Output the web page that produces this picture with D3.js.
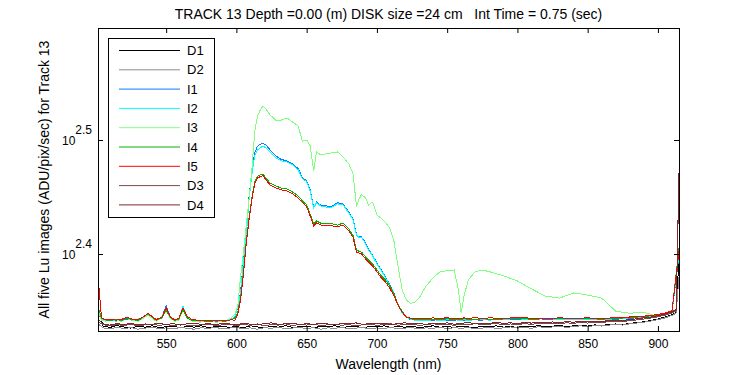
<!DOCTYPE html>
<html>
<head>
<meta charset="utf-8">
<script src="https://cdn.jsdelivr.net/npm/d3@7/dist/d3.min.js"></script>
<style>
  body { margin: 0; background: #fff; }
  svg { font-family: "Liberation Sans", Arial, sans-serif; }
</style>
</head>
<body>
<div id="chart"></div>
<script>
// chart data (ADU/pix/sec)

var titleText = "TRACK 13 Depth =0.00 (m) DISK size =24 cm   Int Time = 0.75 (sec)";
var xLabel = "Wavelength (nm)";
var yLabel = "All five Lu images (ADU/pix/sec) for Track 13";

var seriesNames = ["D1", "D2", "I1", "I2", "I3", "I4", "I5", "D3", "D4"];
var seriesColors = ["#000000", "#8c8c8c", "#0a7cff", "#00ffff", "#80ff80", "#00b400", "#ff0000", "#804848", "#802828"];

var xTicks = [550, 600, 650, 700, 750, 800, 850, 900];
var yTickExps = ["2.4", "2.5"];

// wavelength grid for the lit images I1..I5
var wlLit = [
  502, 504, 507, 510, 514, 518, 522, 526, 530, 534,
  537, 540, 543, 547, 550, 553, 556, 559, 562, 565,
  569, 574, 580, 586, 592, 596, 599, 601, 603, 605,
  607, 609, 611, 613, 615, 617, 619, 621, 624, 628,
  632, 636, 640, 644, 647, 650, 652.5, 655, 657, 660,
  664, 668, 672, 676, 680, 683, 685.5, 687, 689, 692,
  694, 697, 700, 703, 706, 709, 712, 715, 718, 721,
  724, 727, 730, 735, 740, 745, 750, 755, 758, 760,
  762, 765, 770, 775, 780, 790, 800, 810, 820, 830,
  840, 850, 860, 870, 880, 890, 900, 905, 910, 915
];

var I1 = [
  222.5, 220.2, 219.8, 219.6, 220, 219.5, 220.3, 220, 219.7, 220.9,
  222.2, 220.8, 219.9, 221, 226.4, 221.1, 219.8, 220.1, 225.2, 221,
  219.8, 219.5, 219.4, 219.3, 219.6, 220, 221.3, 225.8, 233, 248,
  262, 282, 297, 308, 312.3, 313.5, 314, 313, 310, 306.2,
  304, 303.2, 301.3, 298.5, 293, 291.2, 285.9, 276.2, 279, 277.3,
  276.8, 276.5, 278.6, 277.8, 273.4, 269.6, 261.2, 260.2, 260, 256.9,
  253.6, 250.6, 246.6, 243.5, 239.8, 236.4, 232.6, 226.8, 223.2, 221.3,
  220, 220.1, 219.6, 219.9, 219.7, 220.2, 219.8, 219.6, 220.1, 219.8,
  219.7, 220.1, 219.9, 219.8, 220.3, 219.9, 220.1, 220.6, 220.2, 220.4,
  220.1, 220, 220.3, 220.2, 220.6, 221.1, 221.7, 222.4, 223.2, 250
];

var I2 = [
  223, 220.4, 219.5, 220.1, 219.3, 219.9, 220.5, 219.6, 220.3, 221.2,
  222.3, 221, 219.7, 221.3, 225.5, 220.8, 219.5, 220.4, 226, 221.4,
  219.6, 219.3, 219.2, 219.5, 219.2, 220.1, 221.5, 226.1, 232.2, 247.2,
  260.5, 280.2, 294.8, 306.2, 310, 311.2, 312.5, 311.2, 308.7, 305,
  303.2, 302.6, 300.7, 297.7, 292.4, 290.7, 285.3, 275.7, 278.6, 276.8,
  276.2, 276.2, 278, 277.3, 272.9, 269.1, 260.9, 259.8, 259.8, 256.4,
  253.2, 250.2, 246.2, 243.2, 239.4, 236, 232.2, 226.5, 222.9, 221.1,
  220.2, 219.8, 219.8, 219.4, 220, 219.6, 219.9, 220.2, 219.7, 219.5,
  220, 219.6, 220.1, 220.3, 219.8, 220.2, 220.4, 220, 220.5, 220.1,
  219.9, 220.3, 220, 220.4, 220.8, 221.3, 221.9, 222.5, 223.5, 251
];

var I3 = [
  223, 219.8, 219.3, 220.2, 219.8, 219.3, 220.7, 219.8, 219.3, 220.7,
  222, 220.7, 219.3, 221.1, 223.8, 220.7, 219.3, 219.8, 224.3, 220.7,
  219.3, 218.9, 219.3, 218.9, 219.3, 220.7, 222.4, 226.1, 240.3, 251.7,
  265.9, 280.8, 297.7, 321.3, 331.9, 336, 338.7, 336.7, 332.6, 329.2,
  329.2, 330.6, 327.9, 325.3, 315.5, 316.2, 312.5, 297, 308.7, 306.9,
  307.5, 308.1, 308.7, 305.6, 301.3, 295.4, 276.3, 280.2, 283.1, 281.3,
  277.3, 279, 271.8, 270.1, 267.9, 264.8, 258.4, 245.2, 233.6, 228.9,
  227.4, 227.9, 229.8, 235.5, 239.4, 242.4, 242.9, 243.2, 233.6, 222.9,
  230.7, 238.4, 242.4, 243.2, 242.4, 240.4, 237.9, 234.1, 230.7, 229.8,
  232.2, 231.2, 229.8, 223.8, 222.9, 223.3, 221.5, 222.4, 224.3, 254.2
];

var I4 = [
  225, 220.6, 219.9, 219.5, 220.2, 219.6, 220.6, 220.1, 219.5, 221.3,
  222.6, 221.2, 219.7, 220.8, 224.2, 220.9, 219.6, 220.2, 224.6, 220.8,
  219.5, 219.6, 219.2, 219.6, 219.3, 219.9, 220.6, 223.5, 230, 242,
  257.5, 270.2, 281.2, 290.4, 294, 294.8, 295.3, 292.8, 289.8, 288.2,
  287, 286.4, 284.7, 282.4, 279.6, 277.4, 272.3, 266.8, 268.5, 267.4,
  267, 267, 266.3, 267.4, 264.2, 260.8, 253.2, 252.7, 252.2, 249.7,
  248.2, 246.2, 243.4, 240.4, 238.4, 235.6, 232, 227, 223.6, 221.3,
  220.4, 220, 220.2, 219.9, 220.3, 220.1, 220.5, 219.9, 220.2, 220,
  220.4, 220.2, 219.9, 220.5, 220.1, 220.3, 220.6, 220.2, 220.4, 220.7,
  220.3, 220.5, 220.2, 220.6, 220.9, 221.4, 222, 222.7, 223.7, 254
];

var I5 = [
  236.5, 220.8, 220, 220.3, 219.8, 220.1, 221, 220.3, 220, 221.4,
  222.8, 221.4, 220.1, 221.1, 225.4, 221.2, 220, 220.6, 225.4, 221.4,
  219.9, 219.8, 219.5, 219.8, 219.6, 219.9, 219.8, 222.4, 228.9, 240.9,
  256.3, 269.1, 280.2, 289.4, 293, 293.6, 294.2, 291.8, 288.8, 287.1,
  285.9, 285.3, 283.6, 281.3, 278.6, 276.3, 271.3, 265.9, 267.5, 266.4,
  265.9, 265.9, 265.3, 266.4, 263.2, 259.8, 252.2, 251.7, 251.2, 248.7,
  247.2, 245.2, 242.4, 239.4, 237.4, 234.6, 231.2, 226.5, 223.3, 221.1,
  220.7, 220.4, 220.6, 220.3, 220.8, 220.5, 220.9, 220.4, 220.7, 220.5,
  220.8, 220.6, 220.9, 220.5, 220.8, 220.6, 220.9, 220.7, 220.5, 220.8,
  220.6, 220.8, 220.5, 220.9, 221.2, 221.6, 222.3, 223, 224, 252.5
];

// wavelength grid for the dark images D1..D4
var wlDark = [
  502, 505, 510, 515, 520, 525, 530, 535, 540, 545,
  550, 555, 560, 565, 570, 575, 580, 585, 590, 595,
  600, 605, 610, 615, 620, 625, 630, 635, 640, 645,
  650, 655, 660, 665, 670, 675, 680, 685, 690, 695,
  700, 705, 710, 715, 720, 725, 730, 735, 740, 745,
  750, 755, 760, 765, 770, 775, 780, 785, 790, 795,
  800, 805, 810, 815, 820, 825, 830, 835, 840, 845,
  850, 855, 860, 865, 870, 875, 880, 885, 890, 895,
  900, 905, 910, 913, 915
];

var D1 = [
  225, 217.2, 216.6, 217.4, 216.8, 216.3, 217.1, 216.7, 217.3, 216.5,
  216.9, 217.2, 216.4, 217, 216.7, 217.3, 216.5, 216.9, 217.2, 216.6,
  217, 216.4, 217.3, 216.8, 216.5, 217.1, 216.7, 217.4, 216.6, 216.9,
  217.2, 216.5, 217, 216.8, 217.3, 216.6, 216.9, 217.1, 216.4, 217,
  216.8, 217.3, 216.6, 217, 216.7, 217.2, 216.5, 216.9, 217.3, 216.7,
  217, 216.6, 217.2, 216.8, 216.5, 217.1, 216.9, 217.3, 216.7, 217,
  216.6, 217.2, 216.9, 217.4, 216.8, 217.1, 217.5, 216.9, 217.3, 217.6,
  217.2, 217.7, 217.4, 217.9, 218.1, 217.8, 218.4, 218.7, 219.1, 219.6,
  220.3, 221.2, 222.3, 223.3, 250
];

var D2 = [
  218, 216.4, 215.9, 216.6, 216.1, 216.5, 215.8, 216.3, 216.7, 216,
  216.4, 215.9, 216.6, 216.2, 215.8, 216.5, 216.1, 216.7, 215.9, 216.3,
  216.6, 216, 216.4, 215.8, 216.5, 216.2, 216.7, 215.9, 216.3, 216.6,
  216.1, 216.5, 215.8, 216.4, 216.2, 216.7, 216, 216.3, 216.6, 215.9,
  216.4, 216.1, 216.6, 215.9, 216.3, 216.5, 216, 216.4, 216.2, 216.7,
  216, 216.5, 216.2, 216.6, 215.9, 216.3, 216.7, 216.1, 216.4, 216.8,
  216.3, 216.6, 216.2, 216.9, 216.5, 216.8, 217.1, 216.6, 217, 217.3,
  216.9, 217.4, 217.2, 217.6, 217.9, 217.6, 218.2, 218.5, 218.9, 219.4,
  220, 220.8, 221.9, 223, 240
];

var D3 = [
  219, 217.8, 217.2, 217.9, 217.4, 218, 217.3, 217.7, 218.1, 217.5,
  217.9, 217.3, 218, 217.6, 217.2, 217.8, 218.1, 217.4, 217.7, 218,
  217.4, 217.9, 217.5, 218.1, 217.3, 217.8, 217.6, 218.2, 217.4, 217.9,
  217.6, 218.1, 217.3, 217.8, 218, 217.5, 217.9, 217.2, 217.8, 218.1,
  217.5, 217.9, 218.2, 217.6, 217.8, 218.1, 217.4, 217.9, 218.2, 217.7,
  218, 217.5, 218.1, 217.7, 218.3, 217.8, 218, 218.3, 217.7, 218.1,
  217.8, 218.3, 217.9, 218.4, 218.1, 218.5, 218.2, 218.6, 218.4, 218.8,
  218.5, 218.9, 218.7, 219.1, 219.3, 219.2, 219.6, 219.9, 220.3, 220.7,
  221.3, 222, 223, 224, 293
];

var D4 = [
  220, 218.2, 217.6, 218.3, 217.8, 218.4, 217.7, 218.1, 217.9, 218.5,
  217.8, 218.3, 217.6, 218.2, 218.5, 217.9, 218.3, 217.7, 218.4, 218.1,
  217.8, 218.4, 218, 217.7, 218.3, 218.6, 217.9, 218.2, 218.5, 217.8,
  218.3, 217.9, 218.5, 218.1, 217.7, 218.4, 218.2, 218.6, 217.9, 218.3,
  218.1, 218.5, 217.8, 218.3, 218.6, 218.2, 218.4, 217.9, 218.5, 218.2,
  218.6, 218, 218.4, 218.7, 218.2, 218.5, 218.3, 218.8, 218.4, 218.6,
  218.3, 218.7, 218.5, 218.9, 218.6, 219, 218.8, 219.1, 218.9, 219.3,
  219, 219.4, 219.2, 219.6, 219.8, 219.7, 220.1, 220.4, 220.8, 221.2,
  221.8, 222.5, 223.5, 224.5, 296
];

// series table in drawing order (same as legend)
var seriesValues = [D1, D2, I1, I2, I3, I4, I5, D3, D4];
var seriesGrid = [wlDark, wlDark, wlLit, wlLit, wlLit, wlLit, wlLit, wlDark, wlDark];

// set the dimensions and margins of the graph
var margin = {top: 28, right: 71, bottom: 44, left: 98},
  width = 750 - margin.left - margin.right,
  height = 375 - margin.top - margin.bottom;

var svg = d3.select("#chart")
.append("svg")
  .attr("width", 750)
  .attr("height", 375)
.append("g")
  .attr("transform", "translate(" + margin.left + "," + margin.top + ")");

// scales
var x = d3.scaleLinear()
  .domain([501.5, 915])
  .range([0, width]);

var y = d3.scaleLog()
  .domain([Math.pow(10, 2.3325), Math.pow(10, 2.5982)])
  .range([height, 0]);

var yTicks = yTickExps.map(function(e) { return Math.pow(10, +e); });

// clip so the spikes stay inside the box
svg.append("clipPath")
  .attr("id", "plotclip")
.append("rect")
  .attr("width", width)
  .attr("height", height);

// lines
var line = d3.line()
  .x(function(d) { return x(d[0]); })
  .y(function(d) { return y(d[1]); });

svg.append("g")
  .attr("clip-path", "url(#plotclip)")
  .selectAll("path")
  .data(seriesValues)
  .enter()
  .append("path")
    .attr("fill", "none")
    .attr("stroke", function(d, i) { return seriesColors[i]; })
    .attr("stroke-width", 1)
    .attr("shape-rendering", "crispEdges")
    .attr("d", function(vals, i) {
      return line(vals.map(function(v, j) { return [seriesGrid[i][j], v]; }));
    });

// axes, ticks pointing inwards on all four sides
svg.append("g")
  .attr("transform", "translate(0," + height + ")")
  .call(d3.axisBottom(x).tickValues(xTicks).tickSizeInner(-5).tickSizeOuter(0).tickPadding(8))
  .call(function(g) { g.select(".domain").remove(); });

svg.append("g")
  .call(d3.axisTop(x).tickValues(xTicks).tickSizeInner(-5).tickSizeOuter(0).tickFormat(""))
  .call(function(g) { g.select(".domain").remove(); });

svg.append("g")
  .call(d3.axisLeft(y).tickValues(yTicks).tickSizeInner(-5).tickSizeOuter(0).tickFormat(""))
  .call(function(g) { g.select(".domain").remove(); });

svg.append("g")
  .attr("transform", "translate(" + width + ",0)")
  .call(d3.axisRight(y).tickValues(yTicks).tickSizeInner(-5).tickSizeOuter(0).tickFormat(""))
  .call(function(g) { g.select(".domain").remove(); });

svg.selectAll(".tick text")
  .attr("font-family", "'Liberation Sans', Arial, sans-serif")
  .attr("font-size", 12)
  .attr("fill", "#000");

// y tick labels as 10 with a raised exponent
var yLab = svg.append("g")
  .selectAll("text")
  .data(yTickExps)
  .enter()
  .append("text")
    .attr("x", -6)
    .attr("y", function(d) { return y(Math.pow(10, +d)) + 5; })
    .attr("text-anchor", "end")
    .attr("font-size", 12);
yLab.append("tspan").text("10");
yLab.append("tspan")
  .attr("dy", -11)
  .text(function(d) { return d; });

// frame
svg.append("rect")
  .attr("width", width)
  .attr("height", height)
  .attr("fill", "none")
  .attr("stroke", "#000")
  .attr("stroke-width", 1)
  .attr("shape-rendering", "crispEdges");

// title and axis labels
svg.append("text")
  .attr("x", width / 2)
  .attr("y", -9)
  .attr("text-anchor", "middle")
  .attr("font-size", 14)
  .style("white-space", "pre")
  .text(titleText);

svg.append("text")
  .attr("x", width / 2)
  .attr("y", height + 38)
  .attr("text-anchor", "middle")
  .attr("font-size", 14)
  .text(xLabel);

svg.append("text")
  .attr("transform", "translate(" + (-49) + "," + (height / 2) + ") rotate(-90)")
  .attr("text-anchor", "middle")
  .attr("font-size", 14)
  .text(yLabel);

// legend
var legend = svg.append("g")
  .attr("transform", "translate(10,10)");

legend.append("rect")
  .attr("width", 106)
  .attr("height", 179)
  .attr("fill", "#fff")
  .attr("stroke", "#000")
  .attr("shape-rendering", "crispEdges");

var entry = legend.selectAll(".entry")
  .data(seriesNames)
  .enter()
  .append("g")
    .attr("class", "entry")
    .attr("transform", function(d, i) { return "translate(0," + (12.5 + i * 19.3) + ")"; });

entry.append("line")
  .attr("x1", 11)
  .attr("x2", 72)
  .attr("stroke", function(d, i) { return seriesColors[i]; })
  .attr("stroke-width", 1);

entry.append("text")
  .attr("x", 79)
  .attr("dy", "0.36em")
  .attr("font-size", 13)
  .text(function(d) { return d; });
</script>
</body>
</html>
